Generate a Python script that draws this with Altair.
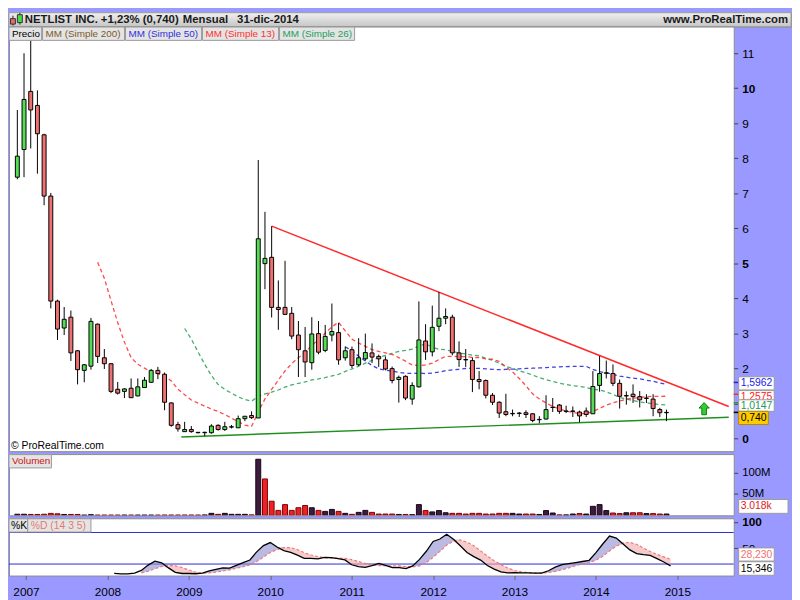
import altair as alt
import pandas as pd

# ---------------- data (monthly candles, Nov 2006 .. Dec 2014) ----------------
months = pd.date_range("2006-11-01", "2014-12-01", freq="MS").strftime("%Y-%m").tolist()

open_px = [7.46, 8.25, 9.91, 9.51, 8.67, 6.92, 3.92, 3.15, 3.46, 2.50,
           1.94, 2.06, 3.26, 2.30, 2.13, 1.40, 1.34, 1.43, 1.21, 1.45,
           1.60, 1.94, 1.83, 1.01, 0.39, 0.19, 0.25, 0.17, 0.16, 0.16,
           0.37, 0.25, 0.32, 0.30, 0.56, 0.65, 0.58, 4.99, 5.17, 3.74,
           3.74, 3.57, 2.95, 2.50, 2.16, 2.99, 2.51, 2.95, 3.02, 2.30,
           2.53, 2.10, 2.27, 2.44, 2.34, 2.24, 1.99, 1.68, 1.77, 1.12,
           1.47, 2.78, 2.47, 3.20, 3.43, 3.46, 2.44, 2.25, 2.22, 1.68,
           1.65, 1.23, 1.03, 0.76, 0.70, 0.72, 0.73, 0.70, 0.53, 0.55,
           0.88, 0.95, 0.78, 0.78, 0.75, 0.78, 0.70, 1.51, 1.86, 1.85,
           1.57, 1.21, 1.26, 1.19, 1.14, 1.12, 0.82, 0.73]
high_px = [9.38, 11.00, 11.90, 9.94, 8.70, 7.01, 3.96, 3.75, 3.65, 2.52,
           2.12, 3.44, 3.28, 2.55, 2.15, 1.61, 1.43, 1.71, 1.71, 1.75,
           1.98, 2.04, 1.88, 1.03, 0.47, 0.47, 0.35, 0.18, 0.19, 0.40,
           0.40, 0.47, 0.38, 0.65, 0.63, 0.77, 7.95, 6.47, 6.06, 4.51,
           5.07, 3.75, 3.35, 3.18, 3.46, 3.35, 3.24, 3.85, 3.30, 2.62,
           2.62, 2.86, 2.99, 2.71, 2.39, 2.34, 2.05, 1.79, 1.80, 1.60,
           3.91, 3.26, 3.79, 4.18, 3.71, 3.53, 2.77, 2.55, 2.31, 1.92,
           1.68, 1.29, 1.06, 1.27, 0.82, 0.75, 0.80, 0.72, 0.63, 1.23,
           1.15, 0.98, 0.93, 0.91, 0.79, 0.88, 1.92, 2.35, 2.22, 2.11,
           1.68, 1.34, 1.54, 1.35, 1.26, 1.26, 0.87, 0.82]
low_px = [7.40, 7.46, 8.28, 7.56, 6.66, 3.71, 2.81, 2.95, 2.21, 1.54,
          1.60, 1.96, 2.15, 1.98, 1.29, 1.25, 1.15, 1.15, 1.20, 1.45,
          1.58, 1.69, 0.80, 0.33, 0.19, 0.18, 0.16, 0.14, 0.06, 0.13,
          0.22, 0.21, 0.28, 0.30, 0.49, 0.55, 0.58, 4.26, 3.45, 3.10,
          3.54, 2.83, 1.75, 1.75, 1.96, 2.40, 2.46, 2.77, 2.10, 2.22,
          2.00, 2.06, 2.22, 2.15, 2.04, 1.94, 1.57, 1.02, 1.09, 0.96,
          1.45, 2.24, 2.34, 3.06, 3.26, 2.37, 2.04, 2.04, 1.32, 1.40,
          1.14, 0.95, 0.58, 0.63, 0.63, 0.61, 0.58, 0.46, 0.43, 0.54,
          0.75, 0.70, 0.72, 0.61, 0.46, 0.61, 0.70, 1.33, 1.71, 1.49,
          0.85, 0.96, 1.01, 0.88, 1.01, 0.63, 0.61, 0.49]
close_px = [8.06, 9.68, 9.38, 8.70, 6.92, 3.92, 3.12, 3.40, 2.44, 1.96,
            2.10, 3.34, 2.34, 2.13, 1.34, 1.29, 1.41, 1.16, 1.47, 1.66,
            1.94, 1.85, 1.03, 0.37, 0.27, 0.25, 0.19, 0.16, 0.17, 0.35,
            0.25, 0.33, 0.33, 0.56, 0.63, 0.59, 5.70, 5.14, 3.74, 3.68,
            3.54, 2.92, 2.53, 2.18, 2.98, 2.46, 2.91, 3.05, 2.24, 2.50,
            2.08, 2.30, 2.45, 2.32, 2.27, 1.98, 1.65, 1.74, 1.15, 1.51,
            2.81, 2.47, 3.17, 3.43, 3.48, 2.44, 2.25, 2.24, 1.68, 1.62,
            1.23, 1.03, 0.72, 0.68, 0.71, 0.71, 0.68, 0.51, 0.54, 0.82,
            0.89, 0.77, 0.77, 0.77, 0.64, 0.68, 1.48, 1.85, 1.87, 1.57,
            1.20, 1.22, 1.19, 1.10, 1.15, 0.85, 0.73, 0.74]
volume_m = [2.5, 2.5, 2.0, 2.0, 2.5, 4.5, 3.5, 2.0, 2.0, 2.0,
            0.4, 1.5, 0.4, 0.4, 0.4, 0.4, 0.4, 0.4, 0.4, 0.4,
            0.4, 0.4, 0.5, 0.5, 0.5, 0.5, 0.5, 0.5, 0.8, 4.6,
            2.3, 4.6, 2.3, 2.3, 2.3, 1.0, 131, 85, 33, 11.5,
            25, 11.5, 17.7, 23, 17.7, 11.5, 9.2, 13.8, 9.2, 4.6,
            2.3, 6.9, 11.5, 6.9, 3.0, 3.0, 3.0, 2.0, 2.0, 1.5,
            25, 11, 8, 11, 6, 4.6, 4.6, 3.0, 4.6, 4.6,
            3.0, 3.0, 4.6, 4.6, 4.6, 3.0, 3.0, 3.0, 2.0, 11,
            5.4, 1.0, 1.0, 3.0, 4.0, 3.0, 21, 25, 11, 5.4,
            4.0, 6.0, 6.0, 6.0, 4.0, 4.0, 3.0, 3.018]

# trend lines (candle index, price)
resist_i = [38, 106.3]
resist_p = [6.06, 0.91]
support_i = [24.5, 106.3]
support_p = [0.04, 0.60]

year_tick_idx = [2, 14, 26, 38, 50, 62, 74, 86, 98]
price_ticks = list(range(12))
last_values = [1.5962, 1.2575, 1.0147, 0.740]
last_labels = ["1,5962", "1,2575", "1,0147", "0,740"]
stoch_levels = [20, 80]

# ---------------- styles ----------------
FONT = "Liberation Sans"
GREEN = "#55dd55"
RED = "#ee7070"
C13 = "#ff2a2a"
C26 = "#22a055"
C50 = "#2020d8"
W = 734
XDOM = [-0.51, 106.31]

n = len(close_px)
df = pd.DataFrame({
    "i": list(range(n)), "month": months,
    "open": open_px, "high": high_px, "low": low_px, "close": close_px,
    "vol": volume_m,
})
df["vup"] = [True] + [close_px[k] >= close_px[k - 1] for k in range(1, n)]

one = alt.Data(values=[{}])


def txt(text, x, y, color="black", size=11, weight="normal", align="left"):
    return alt.Chart(one).mark_text(
        text=text, font=FONT, fontSize=size, fontWeight=weight, color=color,
        align=align, baseline="middle").encode(x=alt.value(x), y=alt.value(y))


def box(x1, x2, y1, y2, fill, stroke="#9a9a9a"):
    return alt.Chart(one).mark_rect(fill=fill, stroke=stroke, strokeWidth=1).encode(
        x=alt.value(x1), x2=alt.value(x2), y=alt.value(y1), y2=alt.value(y2))


def sortI():
    return [alt.SortField("i")]


x_none = alt.X("i:Q", scale=alt.Scale(domain=XDOM, nice=False, zero=False), axis=None)

# ---------------- header ----------------
hgrad = alt.Gradient(gradient="linear",
                     stops=[alt.GradientStop(color="#f0f0f0", offset=0),
                            alt.GradientStop(color="#c6c6c6", offset=1)],
                     x1=0, x2=0, y1=0, y2=1)
header = alt.layer(
    alt.Chart(one).mark_rect(fill=hgrad, stroke="#a0a0a0").encode(
        x=alt.value(0), x2=alt.value(792), y=alt.value(0), y2=alt.value(14)),
    alt.Chart(one).mark_rule(color="#222").encode(x=alt.value(4), y=alt.value(3), y2=alt.value(13)),
    box(1.5, 6.5, 6, 11.5, "#ee6666", "#333"),
    alt.Chart(one).mark_rule(color="#222").encode(x=alt.value(11), y=alt.value(0), y2=alt.value(12)),
    box(8.5, 13.5, 2, 10, "#44dd44", "#333"),
    txt("NETLIST INC.", 16, 7.5, "#1a1a1a", 11.5, "bold"),
    txt("+1,23% (0,740)", 93, 7.5, "#1a1a1a", 11.5, "bold"),
    txt("Mensual", 176, 7.5, "#1a1a1a", 11.5, "bold"),
    txt("31-dic-2014", 231, 7.5, "#1a1a1a", 11.5, "bold"),
    txt("www.ProRealTime.com", 789, 7.5, "#1a1a1a", 11.5, "bold", "right"),
).properties(width=792, height=14)

# ---------------- price panel ----------------
yP = alt.Scale(domain=[-0.367, 11.763], nice=False, zero=False)
price_axis = alt.Axis(orient="right", values=price_ticks, tickSize=4, tickColor="#444",
                      domain=False, grid=False, labelFont=FONT, labelFontSize=12,
                      labelColor="black", labelPadding=4, title=None,
                      labelFontWeight=alt.expr("datum.value % 5 == 0 ? 'bold' : 'normal'"))


def yp(field):
    return alt.Y(field, scale=yP, axis=price_axis)


base = alt.Chart(df)


def ma_line(period, color):
    return base.transform_window(
        ma="mean(close)", cnt="count()", frame=[-(period - 1), 0], sort=sortI()
    ).transform_filter(f"datum.cnt >= {period}").mark_line(
        color=color, strokeDash=[4, 3], strokeWidth=1.3, opacity=0.85, clip=True
    ).encode(x=x_none, y=yp("ma:Q"))


wicks = base.mark_rule(color="black", strokeWidth=1, clip=True).encode(
    x=x_none, y=yp("low:Q"), y2="high:Q")
bodies = base.mark_bar(size=4, stroke="black", strokeWidth=1, clip=True, orient="vertical").encode(
    x=x_none, y=yp("open:Q"), y2="close:Q",
    fill=alt.condition("datum.close >= datum.open", alt.value(GREEN), alt.value(RED)))

resist = alt.Chart(pd.DataFrame({"i": resist_i, "p": resist_p})).mark_line(
    color="#ff2a2a", strokeWidth=1.5, clip=True).encode(x=x_none, y=yp("p:Q"))
support = alt.Chart(pd.DataFrame({"i": support_i, "p": support_p})).mark_line(
    color="#1f8f1f", strokeWidth=1.5, clip=True).encode(x=x_none, y=yp("p:Q"))

lv_df = pd.DataFrame({"v": last_values, "c": [C50, C13, C26, "#000000"]})
last_ticks = alt.Chart(lv_df).mark_rule(strokeWidth=1.5).encode(
    x=alt.value(734), x2=alt.value(739), y=yp("v:Q"), color=alt.Color("c:N", scale=None))

arrow = alt.Chart(one).mark_point(
    shape="M0,-1L0.85,-0.1L0.38,-0.1L0.38,1L-0.38,1L-0.38,-0.1L-0.85,-0.1Z",
    size=150, filled=True, fill="#33cc33", stroke="#0a7a0a", strokeWidth=1, opacity=1
).encode(x=alt.value(704), y=alt.value(387))

LG = "#e4e4e4"
LF = 10
price = alt.layer(
    support, resist,
    ma_line(26, C26), ma_line(13, C13), ma_line(50, C50),
    wicks, bodies, arrow,
    box(0, 33, 0.5, 14, LG), txt("Precio", 3, 7.5, "black", LF),
    box(34, 117, 0.5, 14, LG), txt("MM (Simple 200)", 37, 7.5, "#7a5a28", LF),
    box(118, 195, 0.5, 14, LG), txt("MM (Simple 50)", 121, 7.5, "#3030e0", LF),
    box(196, 273, 0.5, 14, LG), txt("MM (Simple 13)", 199, 7.5, "#ff3030", LF),
    box(274, 350, 0.5, 14, LG), txt("MM (Simple 26)", 277, 7.5, "#20a060", LF),
    txt("© ProRealTime.com", 2, 425, "black", 10.5),
    last_ticks,
    box(739, 775, 354.7, 368, "white"), txt(last_labels[0], 741, 361.5, "#2020ee", 10.5),
    box(739, 775, 368.7, 380.3, "white"), txt(last_labels[1], 741, 375, "#ff2020", 10.5),
    box(739, 775, 378, 389.7, "white"), txt(last_labels[2], 741, 384, "#1a9a5a", 10.5),
    box(739, 769, 389.7, 403, "#ffcc00", "#b08a00"), txt(last_labels[3], 741, 396.5, "black", 10.5),
).properties(width=W, height=430)

# ---------------- volume panel ----------------
yV = alt.Scale(domain=[0, 143], nice=False)
vol_axis = alt.Axis(orient="right", values=[50, 100], tickSize=4, tickColor="#444", domain=False,
                    grid=False, labelFont=FONT, labelFontSize=11.5, labelColor="black",
                    labelPadding=4, title=None, labelExpr="datum.value + 'M'")
vol_bars = base.mark_bar(size=5, strokeWidth=1, orient="vertical", clip=True).encode(
    x=x_none, y=alt.Y("vol:Q", scale=yV, axis=vol_axis),
    fill=alt.condition("datum.vup", alt.value("#3c1c3c"), alt.value("#ee2222")),
    stroke=alt.condition("datum.vup", alt.value("#1a001a"), alt.value("#800000")))
volume = alt.layer(
    vol_bars,
    box(0, 43, 0.5, 14, LG), txt("Volumen", 3, 7.5, "#cc1010", LF),
    box(739, 789, 46, 60, "white"), txt("3.018k", 741, 53, "#e02020", 10.5),
).properties(width=W, height=62)

# ---------------- stochastic panel ----------------
yS = alt.Scale(domain=[-1.9, 107], nice=False, zero=False)
x_axis = alt.Axis(values=year_tick_idx, labelExpr="2006 + (datum.value + 10) / 12",
                  tickSize=4, tickColor="#666", domain=False, grid=False, labelFont=FONT,
                  labelFontSize=12, labelColor="black", labelPadding=7, title=None)
x_st = alt.X("i:Q", scale=alt.Scale(domain=XDOM, nice=False, zero=False), axis=x_axis)
st_axis = alt.Axis(orient="right", values=[50, 100], tickSize=4, tickColor="#444", domain=False,
                   grid=False, labelFont=FONT, labelFontSize=12, labelColor="black",
                   labelPadding=4, title=None,
                   labelFontWeight=alt.expr("datum.value == 100 ? 'bold' : 'normal'"))


def ys(field):
    return alt.Y(field, scale=yS, axis=st_axis)


st = base.transform_window(
    hh="max(high)", ll="min(low)", c1="count()", frame=[-13, 0], sort=sortI()
).transform_filter("datum.c1 >= 14").transform_calculate(
    raw="100 * (datum.close - datum.ll) / (datum.hh - datum.ll)"
).transform_window(
    K="mean(raw)", c2="count()", frame=[-2, 0], sort=sortI()
).transform_filter("datum.c2 >= 3").transform_window(
    D="mean(K)", c3="count()", frame=[-4, 0], sort=sortI()
)
stD = st.transform_filter("datum.c3 >= 5").transform_calculate(
    hi="max(datum.K, datum.D)", lo="min(datum.K, datum.D)")

levels = alt.Chart(pd.DataFrame({"lv": stoch_levels})).mark_rule(color="#2a2ad8", strokeWidth=1).encode(
    x=alt.value(0), x2=alt.value(W), y=ys("lv:Q"))
blue_fill = stD.mark_area(color="#8c8cd0", opacity=0.6).encode(x=x_st, y=ys("hi:Q"), y2="D:Q")
pink_fill = stD.mark_area(color="#f0a8a8", opacity=0.6).encode(x=x_st, y=ys("D:Q"), y2="lo:Q")
d_line = stD.mark_line(color="#f07878", strokeDash=[3, 2], strokeWidth=1.2).encode(x=x_st, y=ys("D:Q"))
k_line = st.mark_line(color="black", strokeWidth=1.3).encode(x=x_st, y=ys("K:Q"))

stoch = alt.layer(
    levels, blue_fill, pink_fill, d_line, k_line,
    box(0, 19, 0.5, 14, LG), txt("%K", 2, 7.5, "black", LF + 0.5),
    box(19, 83, 0.5, 14, LG), txt("%D (14 3 5)", 22, 7.5, "#e87878", LF + 0.5),
    box(739, 775, 30, 43.3, "white"), txt("28,230", 741, 36.8, "#f07070", 10.5),
    box(739, 775, 44, 57.7, "white"), txt("15,346", 741, 51, "black", 10.5),
).properties(width=W, height=58)

body = alt.vconcat(price, volume, stoch, spacing=3, bounds="flush")
chart = alt.vconcat(header, body, spacing=0, bounds="flush").properties(
    padding=0
).configure(background="#9999ff").configure_view(fill="white", stroke="#8c8c8c")

chart.save("out.html", embed_options={"renderer": "svg", "actions": False})
